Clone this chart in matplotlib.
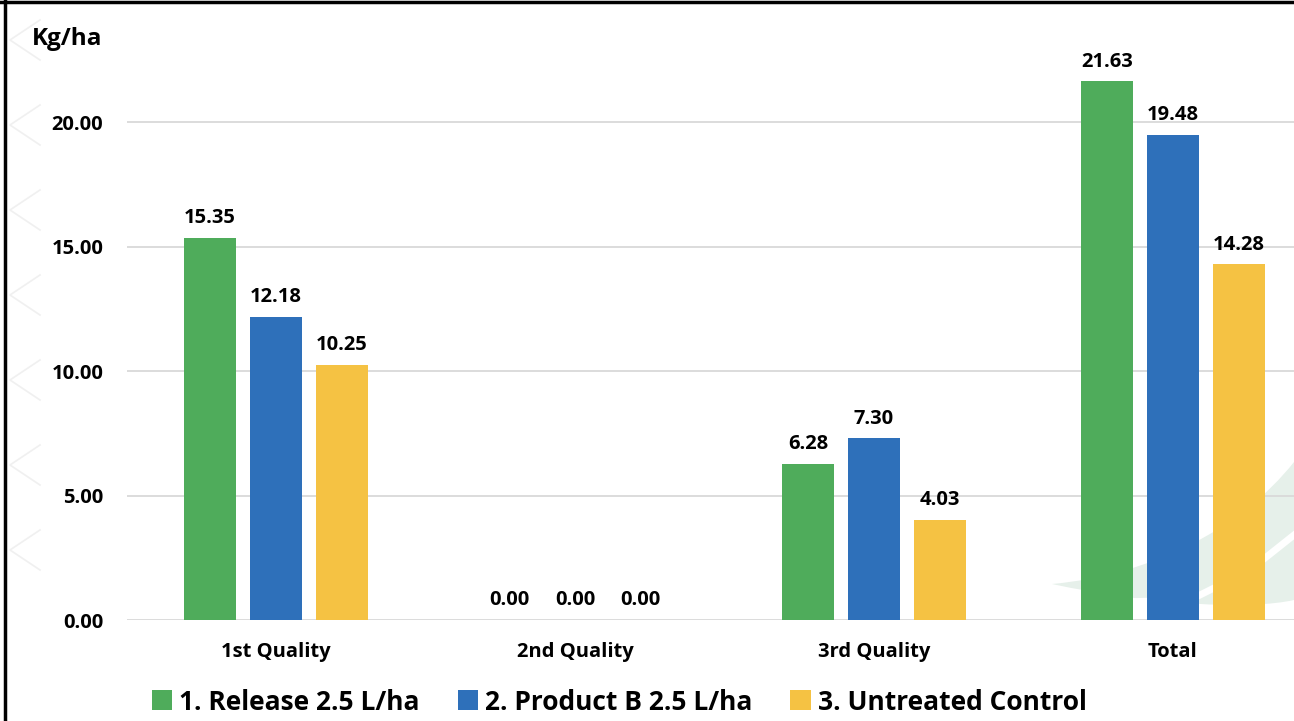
import matplotlib.pyplot as plt
import numpy as np
from matplotlib.patches import Patch, PathPatch
from matplotlib.path import Path
from matplotlib.lines import Line2D

plt.rcParams['font.family'] = ['Open Sans', 'DejaVu Sans']
plt.rcParams['font.weight'] = 'bold'

# dati del grafico
categorie = ['1st Quality', '2nd Quality', '3rd Quality', 'Total']
release = [15.35, 0.00, 6.28, 21.63]
product_b = [12.18, 0.00, 7.30, 19.48]
controllo = [10.25, 0.00, 4.03, 14.28]
serie_nomi = ['1. Release 2.5 L/ha', '2. Product B 2.5 L/ha', '3. Untreated Control']
colori = ['#4FAC5B', '#2E70BA', '#F5C243']
y_ticks = [0, 5, 10, 15, 20]

W, H = 1294, 721
fig = plt.figure(figsize=(W / 100, H / 100), dpi=100)
fig.patch.set_facecolor('white')

def px(x, y):
    # coordinate in pixel (origine in alto a sinistra) -> frazione di figura
    return (x / W, 1 - y / H)

# foglia chiara di sfondo in basso a destra
verts = [px(1052, 584), px(1150, 575), px(1240, 530), px(1294, 462),
         px(1294, 600), px(1250, 610), px(1150, 605), px(1052, 584)]
codes = [Path.MOVETO, Path.CURVE4, Path.CURVE4, Path.CURVE4,
         Path.LINETO, Path.CURVE4, Path.CURVE4, Path.CURVE4]
fig.patches.append(PathPatch(Path(verts, codes), transform=fig.transFigure,
                             facecolor='#E6F0EA', edgecolor='none', zorder=-2))
stripe = [px(1120, 602), px(1190, 600), px(1250, 570), px(1294, 535)]
fig.lines.append(Line2D([p[0] for p in stripe], [p[1] for p in stripe],
                        transform=fig.transFigure, color='white', lw=5, zorder=-1))

# motivo esagonale tenue sul bordo sinistro
for k in range(7):
    y0 = 20 + k * 85
    xs = [px(40, y0)[0], px(10, y0 + 20)[0], px(40, y0 + 40)[0]]
    ys = [px(40, y0)[1], px(10, y0 + 20)[1], px(40, y0 + 40)[1]]
    fig.lines.append(Line2D(xs, ys, transform=fig.transFigure, color='#F0F0F0', lw=1.2, zorder=-1))

ax = fig.add_axes([127 / W, 101 / H, (W - 127) / W, 620 / H])
ax.patch.set_alpha(0)

x = np.arange(len(categorie))
larghezza = 0.174
passo = 0.22
for i, (valori, col) in enumerate(zip([release, product_b, controllo], colori)):
    pos = x + (i - 1) * passo
    ax.bar(pos, valori, width=larghezza, color=col, zorder=3)
    for xb, v in zip(pos, valori):
        ax.annotate(f'{v:.2f}', (xb, v), textcoords='offset points', xytext=(0, 7),
                    ha='center', va='bottom', fontsize=14.5, fontweight='bold', color='black')

ax.set_xlim(-0.498, 3.405)
ax.set_ylim(0, 24.9)
ax.set_yticks(y_ticks)
ax.set_yticklabels([f'{t:.2f}' for t in y_ticks], fontsize=14.5, fontweight='bold')
ax.set_xticks(x)
ax.set_xticklabels(categorie, fontsize=14.5, fontweight='bold')
ax.tick_params(axis='y', length=0, pad=17)
ax.tick_params(axis='x', length=0, pad=16)
ax.yaxis.grid(True, color='#D9D9D9', lw=1.3, zorder=0)
for s in ax.spines.values():
    s.set_visible(False)

fig.text(32 / W, 1 - 45 / H, 'Kg/ha', fontsize=17.5, fontweight='bold', ha='left', va='baseline')

handles = [Patch(facecolor=c, edgecolor='none') for c in colori]
fig.legend(handles, serie_nomi, loc='center', bbox_to_anchor=(619 / W, 1 - 702 / H), ncol=3,
           frameon=False, fontsize=19, handlelength=0.78, handleheight=0.78,
           handletextpad=0.25, columnspacing=1.45, borderaxespad=0, borderpad=0)

# bordo nero superiore e sinistro
fig.lines.append(Line2D([0, 1], [1 - 2 / H, 1 - 2 / H], transform=fig.transFigure, color='black', lw=2.5))
fig.lines.append(Line2D([5 / W, 5 / W], [0, 1], transform=fig.transFigure, color='black', lw=2.5))

fig.savefig('out.png', dpi=100)
